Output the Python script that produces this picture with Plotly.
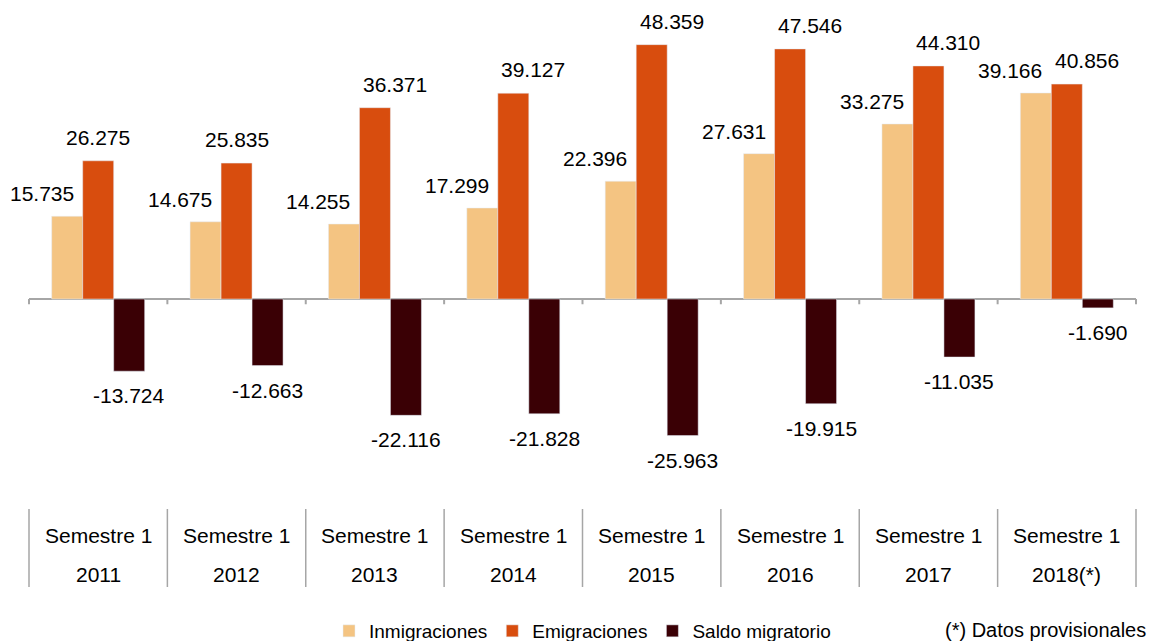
import plotly.graph_objects as go

categories = ["2011", "2012", "2013", "2014", "2015", "2016", "2017", "2018(*)"]
row1_labels = ["Semestre 1"] * 8
inmigraciones = [15735, 14675, 14255, 17299, 22396, 27631, 33275, 39166]
emigraciones = [26275, 25835, 36371, 39127, 48359, 47546, 44310, 40856]
saldo = [-13724, -12663, -22116, -21828, -25963, -19915, -11035, -1690]

C_INM = "#F4C482"
C_EMI = "#D84D0E"
C_SAL = "#3A0005"
GRAY = "#A6A6A6"
FONT = "Liberation Sans, Arial, sans-serif"


def fmt(v):
    return f"{v:,}".replace(",", ".")


fig = go.Figure()
fig.add_trace(go.Bar(name="Inmigraciones", x=categories, y=inmigraciones, marker_color=C_INM))
fig.add_trace(go.Bar(name="Emigraciones", x=categories, y=emigraciones, marker_color=C_EMI))
fig.add_trace(go.Bar(name="Saldo migratorio", x=categories, y=saldo, marker_color=C_SAL))

annotations = []
for i, (c, a, e, s) in enumerate(zip(categories, inmigraciones, emigraciones, saldo)):
    annotations.append(dict(x=i, y=a, text=fmt(a), xanchor="right", yanchor="bottom",
                            xshift=-22.5, yshift=9, showarrow=False))
    if i < 2:
        emi_anchor, emi_shift = "center", 0
    else:
        emi_anchor, emi_shift = "left", -14
    annotations.append(dict(x=i, y=e, text=fmt(e), xanchor=emi_anchor, yanchor="bottom",
                            xshift=emi_shift, yshift=10, showarrow=False))
    annotations.append(dict(x=i, y=s, text=fmt(s), xanchor="center", yanchor="top",
                            xshift=31, yshift=-11, showarrow=False))

for i, (c, r1) in enumerate(zip(categories, row1_labels)):
    annotations.append(dict(x=i, y=0, yref="paper", text=r1, yanchor="middle",
                            yshift=-47, showarrow=False))
    annotations.append(dict(x=i, y=0, yref="paper", text=c, yanchor="middle",
                            yshift=-86, showarrow=False))

annotations.append(dict(x=(943 - 29) / 1107, y=-(630 - 488) / 462, xref="paper", yref="paper",
                        text="(*) Datos provisionales", xanchor="left", yanchor="middle",
                        showarrow=False, font=dict(size=20)))

n = len(categories)
shapes = []
for i in range(n + 1):
    shapes.append(dict(type="line", xref="paper", yref="y", x0=i / n, x1=i / n,
                       y0=0, y1=-1000, line=dict(color=GRAY, width=2)))
    shapes.append(dict(type="line", xref="paper", yref="paper", x0=i / n, x1=i / n,
                       y0=-(509 - 488) / 462, y1=-(587 - 488) / 462,
                       line=dict(color=GRAY, width=1.5)))

fig.update_layout(
    width=1149, height=641,
    margin=dict(l=29, r=13, t=26, b=153, autoexpand=False),
    paper_bgcolor="white", plot_bgcolor="white",
    barmode="group", bargap=0.328, bargroupgap=0,
    font=dict(family=FONT, size=21, color="black"),
    xaxis=dict(type="category", showticklabels=False, showgrid=False, showline=False,
               ticks="", range=[-0.5, n - 0.5]),
    yaxis=dict(range=[-35930, 51900], showticklabels=False, showgrid=False,
               zeroline=True, zerolinecolor=GRAY, zerolinewidth=2, showline=False),
    showlegend=True,
    legend=dict(orientation="h", x=(329 - 29) / 1107, xanchor="left",
                y=-(631 - 488) / 462, yanchor="middle", font=dict(size=19),
                bgcolor="rgba(0,0,0,0)"),
    annotations=annotations,
    shapes=shapes,
)

fig.write_html("out.html", post_script="document.body.style.margin='0';",
               config={"displayModeBar": False})
